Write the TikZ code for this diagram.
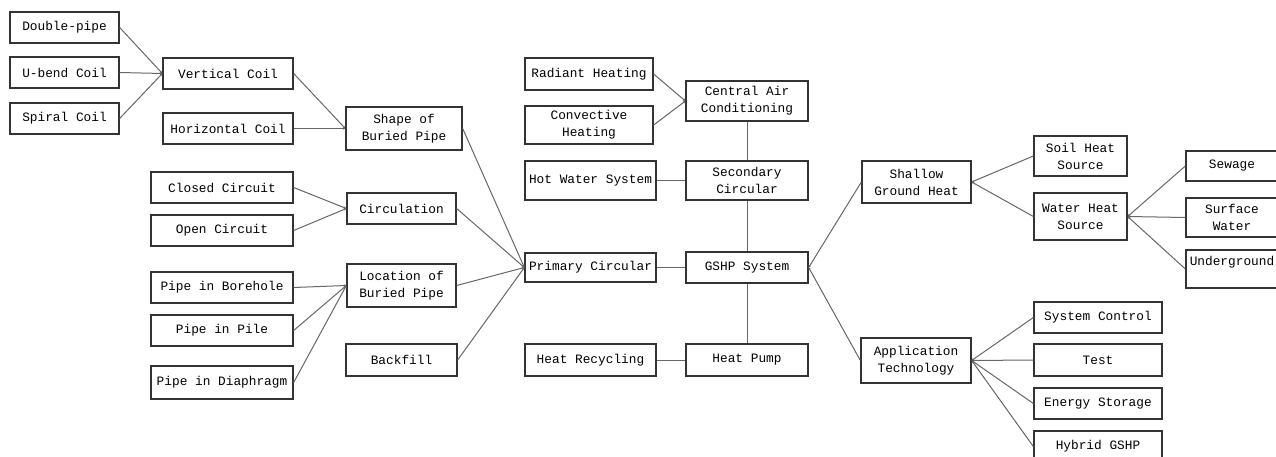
\documentclass[tikz,border=0pt]{standalone}
\usepackage{fontspec}
\setmonofont{Liberation Mono}
\usetikzlibrary{arrows.meta}

\begin{document}
\begin{tikzpicture}[x=1pt,y=-1pt,
  item/.style={draw=black!80, line width=1.3pt, fill=white, align=center, inner sep=1pt,
    font=\ttfamily\fontsize{12.8}{17}\selectfont, text=black},
  link/.style={draw=black!60, line width=1pt},
  feed/.style={link, -{Stealth[length=2.5pt,width=2.5pt]}}]
\useasboundingbox (0,0) rectangle (1276,457);
\clip (0,0) rectangle (1276,457);

% left branch
\node[item, minimum width=109, minimum height=31] (dpipe) at (64.5,27.5) {Double-pipe};
\node[item, minimum width=109, minimum height=31] (ubend) at (64.5,72.5) {U-bend Coil};
\node[item, minimum width=109, minimum height=31] (spiral) at (64.5,118.5) {Spiral Coil};
\node[item, minimum width=130, minimum height=31] (vcoil) at (228,73.5) {Vertical Coil};
\node[item, minimum width=130, minimum height=31] (hcoil) at (228,128.5) {Horizontal Coil};
\node[item, minimum width=116, minimum height=43] (shape) at (404,128.5) {Shape of\\Buried Pipe};
\node[item, minimum width=142, minimum height=31] (closed) at (222,187.5) {Closed Circuit};
\node[item, minimum width=142, minimum height=31] (open) at (222,230.5) {Open Circuit};
\node[item, minimum width=109, minimum height=31] (circ) at (401.5,208.5) {Circulation};
\node[item, minimum width=142, minimum height=31] (bore) at (222,287.5) {Pipe in Borehole};
\node[item, minimum width=142, minimum height=31] (pile) at (222,330.5) {Pipe in Pile};
\node[item, minimum width=142, minimum height=33] (diaph) at (222,382.5) {Pipe in Diaphragm};
\node[item, minimum width=109, minimum height=43] (loc) at (401.5,285.5) {Location of\\Buried Pipe};
\node[item, minimum width=111, minimum height=32] (backfill) at (401.5,360) {Backfill};

% centre
\node[item, minimum width=128, minimum height=32] (radiant) at (589,74) {Radiant Heating};
\node[item, minimum width=128, minimum height=38] (convect) at (589,125) {Convective\\Heating};
\node[item, minimum width=122, minimum height=40] (central) at (747,101) {Central Air\\Conditioning};
\node[item, minimum width=131, minimum height=39] (hotwater) at (590.5,180.5) {Hot Water System};
\node[item, minimum width=122, minimum height=39] (second) at (747,180.5) {Secondary\\Circular};
\node[item, minimum width=131, minimum height=29] (primary) at (590.5,267.5) {Primary Circular};
\node[item, minimum width=122, minimum height=31] (gshp) at (747,267.5) {GSHP System};
\node[item, minimum width=131, minimum height=32] (recycle) at (590.5,360) {Heat Recycling};
\node[item, minimum width=122, minimum height=32] (pump) at (747,360) {Heat Pump};

% right branch
\node[item, minimum width=109, minimum height=42] (shallow) at (916.5,182) {Shallow\\Ground Heat};
\node[item, minimum width=93, minimum height=40] (soil) at (1080.5,156) {Soil Heat\\Source};
\node[item, minimum width=93, minimum height=47] (water) at (1080.5,216.5) {Water Heat\\Source};
\node[item, minimum width=92, minimum height=30] (sewage) at (1232,166) {Sewage};
\node[item, minimum width=92, minimum height=39] (surface) at (1232,217.5) {Surface\\Water};
\node[item, minimum width=92, minimum height=38] (under) at (1232,269) {Underground\\~};
\node[item, minimum width=110, minimum height=45] (apptech) at (916,360.5) {Application\\Technology};
\node[item, minimum width=128, minimum height=31] (control) at (1098,317.5) {System Control};
\node[item, minimum width=128, minimum height=32] (test) at (1098,360) {Test};
\node[item, minimum width=128, minimum height=31] (storage) at (1098,403.5) {Energy Storage};
\node[item, minimum width=128, minimum height=31] (hybrid) at (1098,446.5) {Hybrid GSHP};

\draw[feed] (dpipe.east) -- (vcoil.west);
\draw[feed] (ubend.east) -- (vcoil.west);
\draw[feed] (spiral.east) -- (vcoil.west);
\draw[feed] (vcoil.east) -- (shape.west);
\draw[feed] (hcoil.east) -- (shape.west);
\draw[feed] (closed.east) -- (circ.west);
\draw[feed] (open.east) -- (circ.west);
\draw[feed] (bore.east) -- (loc.west);
\draw[feed] (pile.east) -- (loc.west);
\draw[feed] (diaph.east) -- (loc.west);
\draw[feed] (shape.east) -- (primary.west);
\draw[feed] (circ.east) -- (primary.west);
\draw[feed] (loc.east) -- (primary.west);
\draw[feed] (backfill.east) -- (primary.west);

\draw[feed] (radiant.east) -- (central.west);
\draw[feed] (convect.east) -- (central.west);
\draw[link] (central) -- (second);
\draw[link] (hotwater) -- (second);
\draw[link] (second) -- (gshp);
\draw[link] (primary) -- (gshp);
\draw[link] (gshp) -- (pump);
\draw[link] (recycle) -- (pump);

\draw[feed] (shallow.west) -- (gshp.east);
\draw[feed] (apptech.west) -- (gshp.east);
\draw[feed] (soil.west) -- (shallow.east);
\draw[feed] (water.west) -- (shallow.east);
\draw[feed] (sewage.west) -- (water.east);
\draw[feed] (surface.west) -- (water.east);
\draw[feed] (under.west) -- (water.east);
\draw[feed] (control.west) -- (apptech.east);
\draw[feed] (test.west) -- (apptech.east);
\draw[feed] (storage.west) -- (apptech.east);
\draw[feed] (hybrid.west) -- (apptech.east);
\end{tikzpicture}
\end{document}
